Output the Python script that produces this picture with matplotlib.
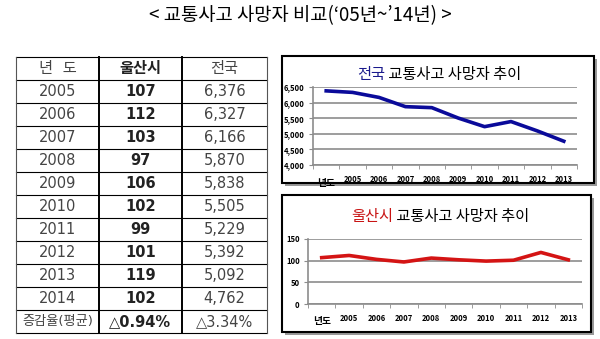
import matplotlib
matplotlib.use('Agg')
import matplotlib.pyplot as plt
from matplotlib.patches import Rectangle
from matplotlib.ticker import FixedLocator, FuncFormatter

plt.rcParams['font.family'] = ['Noto Sans CJK KR', 'DejaVu Sans']
table_font = ['DejaVu Sans', 'Noto Sans CJK KR']

# data
years = ['2005', '2006', '2007', '2008', '2009', '2010', '2011', '2012', '2013', '2014']
ulsan = [107, 112, 103, 97, 106, 102, 99, 101, 119, 102]
national = [6376, 6327, 6166, 5870, 5838, 5505, 5229, 5392, 5092, 4762]
header = ['년  도', '울산시', '전국']
change_row = ['증감율(평균)', '△0.94%', '△3.34%']
axis_labels = ['년도', '2005', '2006', '2007', '2008', '2009', '2010', '2011', '2012', '2013']

W, H = 600, 339
fig = plt.figure(figsize=(6, 3.39), dpi=100)
bg = fig.add_axes([0, 0, 1, 1])
bg.set_xlim(0, W)
bg.set_ylim(H, 0)
bg.axis('off')

bg.text(300, 16, '< 교통사고 사망자 비교(‘05년~’14년) >', ha='center', va='center',
        fontsize=13.5)

# table
x_cols = [16, 99, 182, 267]
top, rh = 57, 23
nrows = len(years) + 2
for i in range(nrows + 1):
    y = top + i * rh
    bg.plot([x_cols[0], x_cols[-1]], [y, y], color='black', lw=0.8)
for j, x in enumerate(x_cols):
    lw = 1.4 if j in (1, 2) else 0.8
    c = 'black' if j in (1, 2) else '#555555'
    bg.plot([x, x], [top, top + nrows * rh], color=c, lw=lw)

rows = [header] + [[y, str(u), f'{n:,}'] for y, u, n in zip(years, ulsan, national)] + [change_row]
for i, row in enumerate(rows):
    yc = top + rh * i + rh / 2
    for j, txt in enumerate(row):
        xc = (x_cols[j] + x_cols[j + 1]) / 2
        bold = (j == 1)
        fs = 10.5
        if i == nrows - 1 and j == 0:
            fs = 9.5
        if i == 0:
            fs = 11
        bg.text(xc, yc, txt, ha='center', va='center', fontsize=fs, family=table_font,
                fontweight='bold' if bold else 'normal',
                color='#222222' if bold else '#444444')

# chart boxes with shadow
for (x0, y0, x1, y1) in [(282, 56, 594, 183), (282, 195, 591, 332)]:
    bg.add_patch(Rectangle((x0 + 3, y0 + 3), x1 - x0, y1 - y0, facecolor='#999999',
                           edgecolor='none', zorder=1))
    bg.add_patch(Rectangle((x0, y0), x1 - x0, y1 - y0, facecolor='white',
                           edgecolor='black', lw=1.5, zorder=2))


def style_chart(ax, yticks, fmt):
    x = range(len(axis_labels))
    ax.set_xlim(-0.5, len(axis_labels) - 0.5)
    ax.set_ylim(yticks[0], yticks[-1])
    ax.yaxis.set_major_locator(FixedLocator(yticks))
    ax.yaxis.set_major_formatter(FuncFormatter(fmt))
    ax.grid(axis='y', color='#8c8c8c', lw=1.2)
    ax.set_xticks(list(x))
    ax.set_xticklabels(axis_labels)
    ax.set_xticks([i - 0.5 for i in range(len(axis_labels) + 1)], minor=True)
    ax.tick_params(axis='x', which='major', length=0, pad=7, labelsize=5.5)
    ax.tick_params(axis='x', which='minor', length=3, color='#8c8c8c', direction='out')
    ax.tick_params(axis='y', length=3, color='#8c8c8c', labelsize=5.5, pad=3)
    for lab in ax.get_xticklabels() + ax.get_yticklabels():
        lab.set_fontweight('bold')
    ax.get_xticklabels()[0].set_fontsize(7)
    ax.get_xticklabels()[0].set_y(-0.04)
    for s in ['top', 'right']:
        ax.spines[s].set_visible(False)
    for s in ['left', 'bottom']:
        ax.spines[s].set_color('#8c8c8c')
        ax.spines[s].set_linewidth(1.2)
    ax.set_axisbelow(True)


ax1 = fig.add_axes([313 / W, 1 - 165 / H, 264 / W, 78 / H])
ax1.plot(range(len(national)), national, color='#0a0a9a', lw=2.6)
style_chart(ax1, [4000, 4500, 5000, 5500, 6000, 6500], lambda v, p: f'{int(v):,}')

ax2 = fig.add_axes([308 / W, 1 - 304 / H, 274 / W, 65 / H])
ax2.plot(range(len(ulsan)), ulsan, color='#d41414', lw=2.6)
style_chart(ax2, [0, 50, 100, 150], lambda v, p: f'{int(v)}')

# chart titles
t1 = bg.text(357, 75, '전국', ha='left', va='center', fontsize=11, color='#1a1a8c',
             fontweight='medium', zorder=3)
bg.annotate(' 교통사고 사망자 추이', xy=(1, 0.5), xycoords=t1, ha='left', va='center',
            fontsize=11, color='black', fontweight='medium', zorder=3)
t2 = bg.text(351, 216, '울산시', ha='left', va='center', fontsize=11, color='#c81414',
             fontweight='medium', zorder=3)
bg.annotate(' 교통사고 사망자 추이', xy=(1, 0.5), xycoords=t2, ha='left', va='center',
            fontsize=11, color='black', fontweight='medium', zorder=3)

fig.savefig('out.png', dpi=100)
